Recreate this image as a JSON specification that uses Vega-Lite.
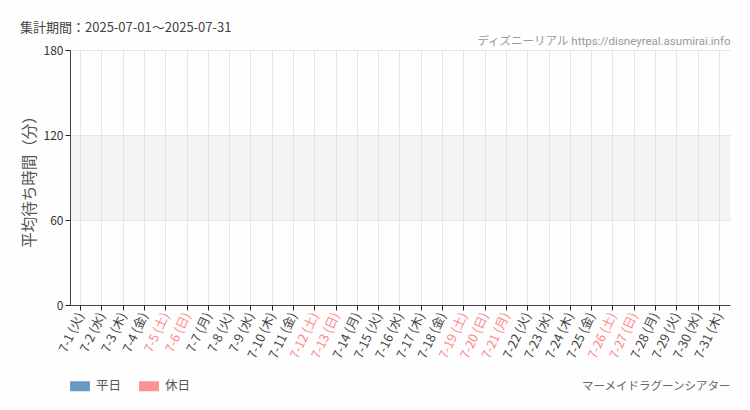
{
  "$schema": "https://vega.github.io/schema/vega-lite/v6.json",
  "width": 660,
  "height": 255,
  "autosize": {"type": "none"},
  "padding": {"left": 70, "top": 50, "right": 20, "bottom": 105},
  "background": "#fdfefd",
  "config": {
    "font": "Noto Sans CJK JP",
    "view": {"stroke": null},
    "axis": {"labelFont": "Noto Sans CJK JP", "titleFont": "Noto Sans CJK JP"}
  },
  "title": {
    "text": "集計期間：2025-07-01～2025-07-31",
    "anchor": "start",
    "frame": "group",
    "dx": -50,
    "dy": 14,
    "offset": 14,
    "fontSize": 13,
    "fontWeight": "normal",
    "color": "#444"
  },
  "datasets": {
    "days": [
      {"day": "7-1 (火)", "kind": "平日", "wait": null},
      {"day": "7-2 (水)", "kind": "平日", "wait": null},
      {"day": "7-3 (木)", "kind": "平日", "wait": null},
      {"day": "7-4 (金)", "kind": "平日", "wait": null},
      {"day": "7-5 (土)", "kind": "休日", "wait": null},
      {"day": "7-6 (日)", "kind": "休日", "wait": null},
      {"day": "7-7 (月)", "kind": "平日", "wait": null},
      {"day": "7-8 (火)", "kind": "平日", "wait": null},
      {"day": "7-9 (水)", "kind": "平日", "wait": null},
      {"day": "7-10 (木)", "kind": "平日", "wait": null},
      {"day": "7-11 (金)", "kind": "平日", "wait": null},
      {"day": "7-12 (土)", "kind": "休日", "wait": null},
      {"day": "7-13 (日)", "kind": "休日", "wait": null},
      {"day": "7-14 (月)", "kind": "平日", "wait": null},
      {"day": "7-15 (火)", "kind": "平日", "wait": null},
      {"day": "7-16 (水)", "kind": "平日", "wait": null},
      {"day": "7-17 (木)", "kind": "平日", "wait": null},
      {"day": "7-18 (金)", "kind": "平日", "wait": null},
      {"day": "7-19 (土)", "kind": "休日", "wait": null},
      {"day": "7-20 (日)", "kind": "休日", "wait": null},
      {"day": "7-21 (月)", "kind": "休日", "wait": null},
      {"day": "7-22 (火)", "kind": "平日", "wait": null},
      {"day": "7-23 (水)", "kind": "平日", "wait": null},
      {"day": "7-24 (木)", "kind": "平日", "wait": null},
      {"day": "7-25 (金)", "kind": "平日", "wait": null},
      {"day": "7-26 (土)", "kind": "休日", "wait": null},
      {"day": "7-27 (日)", "kind": "休日", "wait": null},
      {"day": "7-28 (月)", "kind": "平日", "wait": null},
      {"day": "7-29 (火)", "kind": "平日", "wait": null},
      {"day": "7-30 (水)", "kind": "平日", "wait": null},
      {"day": "7-31 (木)", "kind": "平日", "wait": null}
    ],
    "band": [{"lo": 60, "hi": 120}]
  },
  "data": {"name": "days"},
  "layer": [
    {
      "data": {"name": "band"},
      "mark": {"type": "rect", "color": "#f4f4f4"},
      "encoding": {
        "y": {"field": "lo", "type": "quantitative"},
        "y2": {"field": "hi"}
      }
    },
    {
      "mark": {"type": "bar", "invalid": "break-paths-show-domains"},
      "encoding": {
        "x": {
          "field": "day",
          "type": "nominal",
          "sort": null,
          "scale": {"paddingInner": 0.2, "paddingOuter": 0.1},
          "axis": {
            "title": "マーメイドラグーンシアター",
            "titleFont": "Roboto, Noto Sans CJK JP",
            "titleAnchor": "end",
            "titleFontSize": 11.5,
            "titleFontWeight": "normal",
            "titleColor": "#666",
            "titlePadding": 20,
            "labelAngle": -65,
            "labelAlign": "right",
            "labelBaseline": "middle",
            "labelFontSize": 12.5,
            "labelPadding": 3,
            "labelColor": {
              "condition": {"test": "datum.value === '7-5 (土)' || datum.value === '7-6 (日)' || datum.value === '7-12 (土)' || datum.value === '7-13 (日)' || datum.value === '7-19 (土)' || datum.value === '7-20 (日)' || datum.value === '7-21 (月)' || datum.value === '7-26 (土)' || datum.value === '7-27 (日)'", "value": "#ff8585"},
              "value": "#444"
            },
            "bandPosition": 0.5,
            "grid": true,
            "gridColor": "#e6e6e6",
            "domainColor": "#444",
            "tickColor": "#222",
            "tickSize": 5,
            "zindex": 1
          }
        },
        "y": {
          "field": "wait",
          "type": "quantitative",
          "scale": {"domain": [0, 180]},
          "axis": {
            "title": "平均待ち時間（分）",
            "titleFontSize": 15.5,
            "titleFontWeight": "normal",
            "titleColor": "#555",
            "titlePadding": 6,
            "values": [0, 60, 120, 180],
            "labelFontSize": 12,
            "labelColor": "#333",
            "grid": true,
            "gridColor": "#e6e6e6",
            "domainColor": "#444",
            "tickColor": "#222",
            "tickSize": 5,
            "zindex": 1
          }
        },
        "color": {
          "field": "kind",
          "type": "nominal",
          "sort": ["平日", "休日"],
          "scale": {"domain": ["平日", "休日"], "range": ["#6b9ac4", "#ff9393"]},
          "legend": {
            "title": null,
            "orient": "none",
            "direction": "horizontal",
            "legendX": 0,
            "legendY": 326,
            "symbolType": "M-1,-0.5L1,-0.5L1,0.5L-1,0.5Z",
            "symbolSize": 400,
            "symbolStrokeWidth": 0,
            "labelFontSize": 12.5,
            "labelColor": "#555",
            "labelOffset": 6,
            "columnPadding": 17
          }
        }
      }
    },
    {
      "mark": {"type": "tick", "opacity": 0},
      "encoding": {
        "x": {
          "field": "day",
          "type": "nominal",
          "sort": null,
          "axis": {
            "orient": "top",
            "title": "ディズニーリアル https://disneyreal.asumirai.info",
            "titleFont": "Roboto, Noto Sans CJK JP",
            "titleFontSize": 11.5,
            "titleFontWeight": "normal",
            "titleColor": "#999",
            "titleAnchor": "end",
            "titlePadding": 4,
            "labels": false,
            "ticks": false,
            "domain": false,
            "grid": false
          }
        }
      }
    }
  ],
  "resolve": {"axis": {"x": "independent"}}
}
